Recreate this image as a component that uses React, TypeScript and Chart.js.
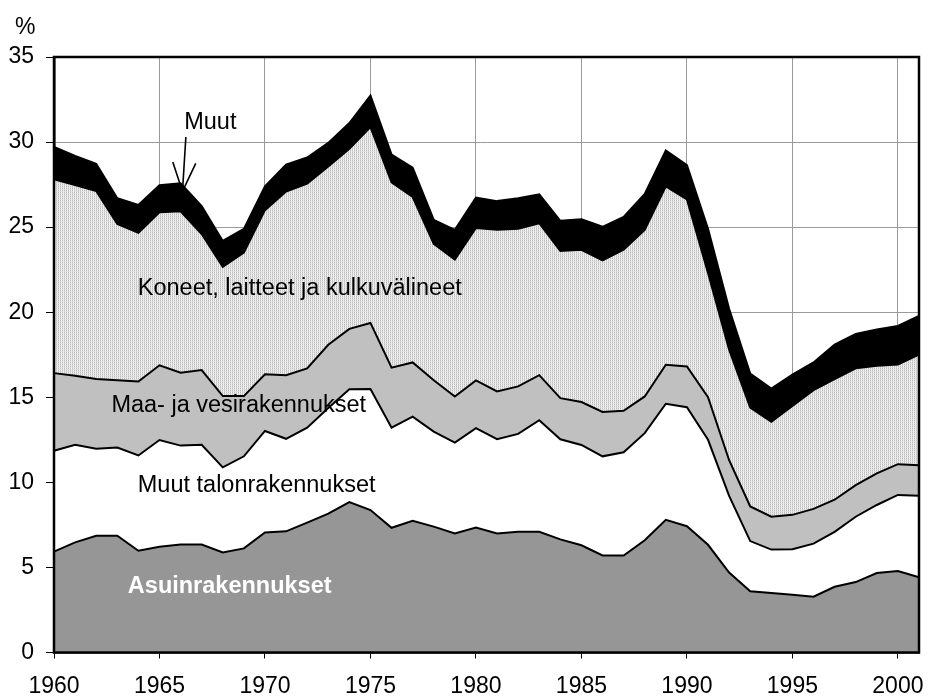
import React, { useEffect, useRef } from 'react';
import { Chart, registerables } from 'chart.js';

Chart.register(...registerables);

const FONT = '"Liberation Sans", Arial, Helvetica, sans-serif';

const years = [
  1960, 1961, 1962, 1963, 1964, 1965, 1966, 1967, 1968, 1969,
  1970, 1971, 1972, 1973, 1974, 1975, 1976, 1977, 1978, 1979,
  1980, 1981, 1982, 1983, 1984, 1985, 1986, 1987, 1988, 1989,
  1990, 1991, 1992, 1993, 1994, 1995, 1996, 1997, 1998, 1999,
  2000, 2001,
];

const tickYears = [1960, 1965, 1970, 1975, 1980, 1985, 1990, 1995, 2000];

// Asuinrakennukset (residential buildings)
const asuinrakennukset = [
  5.93, 6.47, 6.86, 6.86, 5.98, 6.21, 6.35, 6.35, 5.88, 6.12,
  7.05, 7.12, 7.63, 8.16, 8.84, 8.37, 7.33, 7.74, 7.40, 7.00,
  7.35, 7.00, 7.09, 7.09, 6.65, 6.30, 5.70, 5.70, 6.60, 7.80,
  7.42, 6.33, 4.70, 3.60, 3.49, 3.40, 3.28, 3.86, 4.14, 4.67,
  4.79, 4.42,
];

// Muut talonrakennukset (other buildings)
const muutTalonrakennukset = [
  5.93, 5.74, 5.12, 5.19, 5.60, 6.28, 5.81, 5.86, 5.00, 5.41,
  5.97, 5.44, 5.58, 6.21, 6.63, 7.12, 5.88, 6.12, 5.58, 5.34,
  5.84, 5.54, 5.76, 6.56, 5.88, 5.90, 5.83, 6.07, 6.29, 6.82,
  7.00, 6.17, 4.50, 2.95, 2.56, 2.67, 3.12, 3.23, 3.84, 4.00,
  4.47, 4.79,
];

// Maa- ja vesirakennukset (civil engineering)
const maaJaVesirakennukset = [
  4.56, 4.05, 4.09, 3.95, 4.35, 4.39, 4.28, 4.39, 4.19, 3.54,
  3.33, 3.74, 3.49, 3.72, 3.55, 3.88, 3.53, 3.19, 3.02, 2.71,
  2.80, 2.80, 2.79, 2.65, 2.42, 2.52, 2.61, 2.44, 2.16, 2.29,
  2.39, 2.50, 2.10, 2.03, 1.93, 2.02, 2.04, 1.89, 1.86, 1.86,
  1.81, 1.79,
];

// Koneet, laitteet ja kulkuvälineet (machinery & transport)
const koneetLaitteet = [
  11.39, 11.21, 11.05, 9.19, 8.74, 9.00, 9.49, 8.00, 7.60, 8.44,
  9.65, 10.79, 10.86, 10.47, 10.58, 11.51, 10.89, 9.72, 8.02, 8.04,
  8.96, 9.50, 9.27, 8.93, 8.65, 8.95, 8.91, 9.46, 9.79, 10.49,
  9.82, 7.30, 6.50, 5.82, 5.58, 6.40, 6.98, 7.09, 6.86, 6.33,
  5.86, 6.51,
];

// Muut (other)
const muut = [
  1.91, 1.72, 1.60, 1.51, 1.63, 1.59, 1.65, 1.63, 1.52, 1.39,
  1.40, 1.58, 1.53, 1.39, 1.52, 1.86, 1.63, 1.72, 1.40, 1.75,
  1.79, 1.69, 1.79, 1.70, 1.77, 1.80, 1.97, 1.93, 2.11, 2.10,
  2.02, 2.60, 2.40, 2.00, 1.95, 1.84, 1.63, 2.02, 2.02, 2.12,
  2.26, 2.28,
];

const yMin = 0;
const yMax = 35;
const yStep = 5;

function makePattern(): CanvasPattern | string {
  const c = document.createElement('canvas');
  c.width = 2;
  c.height = 2;
  const g = c.getContext('2d');
  if (!g) return '#dcdcdc';
  g.fillStyle = '#bdbdbd';
  g.fillRect(0, 0, 1, 1);
  g.fillStyle = '#d6d6d6';
  g.fillRect(0, 1, 1, 1);
  g.fillStyle = '#f4f4f4';
  g.fillRect(1, 0, 1, 1);
  g.fillStyle = '#e8e8e8';
  g.fillRect(1, 1, 1, 1);
  const p = g.createPattern(c, 'repeat');
  return p || '#dcdcdc';
}

const annotationPlugin = {
  id: 'annotationPlugin',
  afterDraw(chart: any) {
    const { ctx, chartArea: a, scales } = chart;
    const x = scales.x;
    const y = scales.y;
    ctx.save();

    // plot frame
    ctx.strokeStyle = '#000';
    ctx.lineWidth = 2.5;
    ctx.strokeRect(a.left, a.top, a.right - a.left, a.bottom - a.top);

    // unit label
    ctx.fillStyle = '#000';
    ctx.font = `23px ${FONT}`;
    ctx.textAlign = 'left';
    ctx.textBaseline = 'alphabetic';
    ctx.fillText('%', a.left - 39, a.top - 23);

    const put = (text: string, xi: number, v: number) => {
      ctx.fillText(text, x.getPixelForValue(xi), y.getPixelForValue(v));
    };
    ctx.font = `23.5px ${FONT}`;
    put('Koneet, laitteet ja kulkuvälineet', 3.97, 21.03);
    put('Maa- ja vesirakennukset', 2.72, 14.16);
    put('Muut talonrakennukset', 3.97, 9.46);
    put('Muut', 6.17, 30.74);

    ctx.fillStyle = '#fff';
    ctx.font = `bold 23.5px ${FONT}`;
    put('Asuinrakennukset', 3.5, 3.48);

    // arrow for "Muut"
    const x0 = x.getPixelForValue(6.25);
    const y0 = y.getPixelForValue(30.3);
    const x1 = x.getPixelForValue(6.09);
    const y1 = y.getPixelForValue(27.1);
    ctx.strokeStyle = '#000';
    ctx.lineWidth = 1.6;
    ctx.beginPath();
    ctx.moveTo(x0, y0);
    ctx.lineTo(x1, y1);
    const ang = Math.atan2(y0 - y1, x0 - x1);
    const len = 31;
    const spread = 0.38;
    ctx.moveTo(x1 + len * Math.cos(ang - spread), y1 + len * Math.sin(ang - spread));
    ctx.lineTo(x1, y1);
    ctx.lineTo(x1 + len * Math.cos(ang + spread), y1 + len * Math.sin(ang + spread));
    ctx.stroke();

    ctx.restore();
  },
};

export default function App() {
  const canvasRef = useRef<HTMLCanvasElement | null>(null);

  useEffect(() => {
    const canvas = canvasRef.current;
    if (!canvas) return;
    const pattern = makePattern();

    const mk = (label: string, data: number[], bg: any, fill: any) => ({
      label,
      data,
      backgroundColor: bg,
      borderColor: '#000',
      borderWidth: 2,
      pointRadius: 0,
      pointHoverRadius: 0,
      tension: 0,
      fill,
    });

    const chart = new Chart(canvas, {
      type: 'line',
      data: {
        labels: years.map(String),
        datasets: [
          mk('Asuinrakennukset', asuinrakennukset, '#969696', 'origin'),
          mk('Muut talonrakennukset', muutTalonrakennukset, '#ffffff', '-1'),
          mk('Maa- ja vesirakennukset', maaJaVesirakennukset, '#c0c0c0', '-1'),
          mk('Koneet, laitteet ja kulkuvälineet', koneetLaitteet, pattern, '-1'),
          mk('Muut', muut, '#000000', '-1'),
        ],
      },
      options: {
        animation: false,
        responsive: false,
        devicePixelRatio: 1,
        events: [],
        layout: { padding: { top: 57, right: 8, left: 0, bottom: 0 } },
        plugins: {
          legend: { display: false },
          tooltip: { enabled: false },
          title: { display: false },
        },
        scales: {
          x: {
            type: 'category',
            offset: false,
            stacked: true,
            afterFit: (s: any) => {
              s.height = 45.5;
            },
            grid: {
              display: true,
              drawOnChartArea: true,
              drawTicks: true,
              tickLength: 6,
              lineWidth: 1,
              color: (c: any) => (tickYears.includes(years[c.index]) ? '#9a9a9a' : 'rgba(0,0,0,0)'),
              tickColor: (c: any) => (tickYears.includes(years[c.index]) ? '#000' : 'rgba(0,0,0,0)'),
            },
            border: { display: true, color: '#000', width: 2.5 },
            ticks: {
              autoSkip: false,
              maxRotation: 0,
              minRotation: 0,
              padding: 14,
              color: '#000',
              font: { family: FONT, size: 23 },
              callback: (_v: any, i: number) => (tickYears.includes(years[i]) ? String(years[i]) : ''),
            },
          },
          y: {
            stacked: true,
            min: yMin,
            max: yMax,
            afterFit: (s: any) => {
              s.width = 54;
            },
            grid: {
              color: '#9a9a9a',
              lineWidth: 1,
              tickLength: 8,
              tickColor: '#000',
            },
            border: { display: true, color: '#000', width: 2.5 },
            ticks: {
              stepSize: yStep,
              padding: 12,
              color: '#000',
              font: { family: FONT, size: 23 },
            },
          },
        },
      },
      plugins: [annotationPlugin],
    } as any);

    return () => {
      chart.destroy();
    };
  }, []);

  return (
    <div style={{ position: 'fixed', left: 0, top: 0, width: 933, height: 698, background: '#fff' }}>
      <canvas ref={canvasRef} width={933} height={698} style={{ display: 'block' }} />
    </div>
  );
}
